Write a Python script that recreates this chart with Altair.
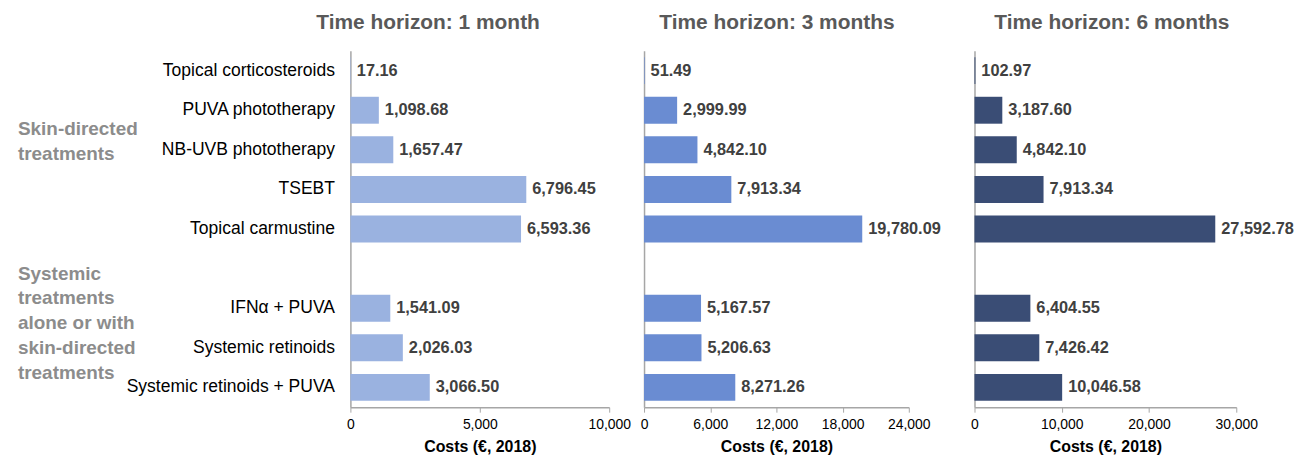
import altair as alt
import pandas as pd

categories = ["Topical corticosteroids", "PUVA phototherapy", "NB-UVB phototherapy",
              "TSEBT", "Topical carmustine", "IFNα + PUVA", "Systemic retinoids",
              "Systemic retinoids + PUVA"]
gap_row = " "
row_order = categories[:5] + [gap_row] + categories[5:]

cost_1m = [17.16, 1098.68, 1657.47, 6796.45, 6593.36, 1541.09, 2026.03, 3066.50]
cost_3m = [51.49, 2999.99, 4842.10, 7913.34, 19780.09, 5167.57, 5206.63, 8271.26]
cost_6m = [102.97, 3187.60, 4842.10, 7913.34, 27592.78, 6404.55, 7426.42, 10046.58]

panel_titles = ["Time horizon: 1 month", "Time horizon: 3 months", "Time horizon: 6 months"]
panel_colors = ["#9AB2E0", "#6A8CD2", "#3A4D75"]
ticks_1m = [0, 5000, 10000]
ticks_3m = [0, 6000, 12000, 18000, 24000]
ticks_6m = [0, 10000, 20000, 30000]

group_text = [["Skin-directed", "treatments"],
              ["Systemic", "treatments", "alone or with", "skin-directed", "treatments"]]
group_anchor = ["NB-UVB phototherapy", gap_row]
group_dy = [-21, 5]

FONT = "Liberation Sans, Arial, sans-serif"
AXIS_GREY = "#A6A6A6"
H = 358


def panel(values, title, color, ticks, width, axis_len, first, title_dx, clip):
    df = pd.DataFrame({"treatment": categories, "cost": values})
    yscale = alt.Scale(domain=row_order, paddingInner=0.32, paddingOuter=0.16)
    if first:
        yaxis = alt.Axis(title=None, labelFontSize=17.6, labelColor="#000000", labelPadding=16,
                         ticks=False, domainColor=AXIS_GREY, domainWidth=1.5, labelLimit=400)
    else:
        yaxis = alt.Axis(title=None, labels=False, ticks=False, domainColor=AXIS_GREY,
                         domainWidth=1.5)
    xaxis = alt.Axis(values=ticks, format=",d", title="Costs (€, 2018)", titleFontSize=16,
                     titleFontWeight="bold", titleColor="#000000", labelFontSize=14,
                     labelColor="#000000", tickSize=5, tickColor=AXIS_GREY,
                     domainColor=AXIS_GREY, domainWidth=1.5, grid=False, labelPadding=5,
                     titlePadding=8, labelFlush=False, titleX=axis_len / 2)
    xscale = alt.Scale(domain=[0, ticks[-1]], range=[0, axis_len], nice=False)
    base = alt.Chart(df)
    bars = base.mark_bar(color=color).encode(
        x=alt.X("cost:Q", scale=xscale, axis=xaxis),
        y=alt.Y("treatment:N", scale=yscale, axis=yaxis),
    )
    labels = base.mark_text(align="left", baseline="middle", dx=6, fontSize=16.4,
                            fontWeight="bold", color="#404040", clip=clip).encode(
        x="cost:Q",
        y=alt.Y("treatment:N", scale=yscale),
        text=alt.Text("cost:Q", format=",.2f"),
    )
    layers = [bars, labels]
    if first:
        for lines, anchor, dy in zip(group_text, group_anchor, group_dy):
            g = alt.Chart(pd.DataFrame({"treatment": [anchor], "label": [lines]})).mark_text(
                align="left", baseline="middle", fontSize=19, fontWeight="bold",
                color="#8C8C8C", lineHeight=25, dy=dy
            ).encode(
                x=alt.value(-334),
                y=alt.Y("treatment:N", scale=yscale),
                text="label",
            )
            layers.append(g)
    return alt.layer(*layers).properties(
        width=width, height=H,
        title=alt.TitleParams(title, fontSize=21, fontWeight="bold", color="#595959",
                              anchor="middle", frame="group", dx=title_dx, offset=18),
    )


p1 = panel(cost_1m, panel_titles[0], panel_colors[0], ticks_1m, 260, 260, True, -52, False)
p2 = panel(cost_3m, panel_titles[1], panel_colors[1], ticks_3m, 297, 266, False, -15, False)
p3 = panel(cost_6m, panel_titles[2], panel_colors[2], ticks_6m, 322, 263, False, -23, True)

chart = alt.hconcat(p1, p2, p3, spacing=35, bounds="flush").properties(
    padding={"left": 10, "top": 3, "right": 0, "bottom": 0}
).configure_view(stroke=None).configure_axis(
    labelFont=FONT, titleFont=FONT
).configure_text(font=FONT).configure_title(font=FONT)

chart.save("out.html", embed_options={"renderer": "svg", "actions": False})
